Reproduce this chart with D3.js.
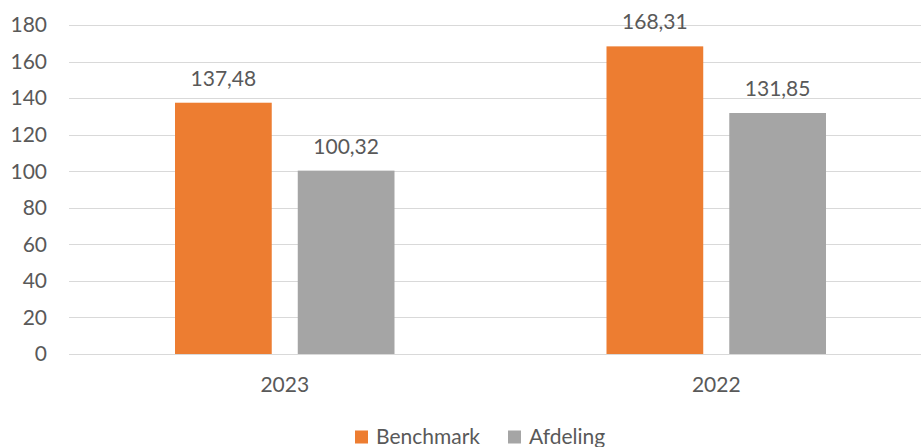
<!DOCTYPE html>
<html>
<head>
<meta charset="utf-8">
<script src="https://cdn.jsdelivr.net/npm/d3@7"></script>
<style>
  html, body { margin: 0; padding: 0; background: #fff; }
  svg text { font-family: Lato, "Open Sans", sans-serif; fill: #595959; }
</style>
</head>
<body>
<div id="app"></div>
<script>
// chart data
const categories = ["2023", "2022"];
const seriesNames = ["Benchmark", "Afdeling"];
const benchmark = [137.48, 168.31];
const afdeling = [100.32, 131.85];
const yTicks = [0, 20, 40, 60, 80, 100, 120, 140, 160, 180];
const colors = ["#ed7d31", "#a5a5a5"];

const width = 921, height = 447;
const svg = d3.select("#app").append("svg")
  .attr("width", width)
  .attr("height", height);

const plotLeft = 69, plotRight = 921, plotTop = 25, plotBottom = 354;

const x = d3.scaleBand().domain(categories).range([plotLeft, plotLeft + 863]);
const xs = d3.scaleBand().domain(seriesNames)
  .range([106, 431.5 - 106]).paddingInner(0.212);
const y = d3.scaleLinear().domain([0, 180]).range([plotBottom, plotTop]);

// gridlines
svg.append("g")
  .selectAll("line")
  .data(yTicks)
  .join("line")
    .attr("x1", plotLeft).attr("x2", plotRight)
    .attr("y1", d => Math.round(y(d)) + 0.5)
    .attr("y2", d => Math.round(y(d)) + 0.5)
    .attr("stroke", "#d9d9d9")
    .attr("stroke-width", 1);

// y tick labels
svg.append("g")
  .selectAll("text")
  .data(yTicks)
  .join("text")
    .attr("x", 47)
    .attr("y", d => y(d))
    .attr("dy", "0.35em")
    .attr("text-anchor", "end")
    .attr("font-size", 21)
    .text(d => d);

const rows = categories.map((c, i) => ({
  cat: c,
  vals: [{ s: "Benchmark", v: benchmark[i] }, { s: "Afdeling", v: afdeling[i] }]
}));

const groups = svg.append("g")
  .selectAll("g")
  .data(rows)
  .join("g")
    .attr("transform", d => `translate(${x(d.cat)},0)`);

groups.selectAll("rect")
  .data(d => d.vals)
  .join("rect")
    .attr("x", d => xs(d.s))
    .attr("width", xs.bandwidth())
    .attr("y", d => y(d.v))
    .attr("height", d => y(0) - y(d.v))
    .attr("fill", (d, i) => colors[i]);

const fmt = v => v.toFixed(2).replace(".", ",");

groups.selectAll("text.val")
  .data(d => d.vals)
  .join("text")
    .attr("class", "val")
    .attr("x", d => xs(d.s) + xs.bandwidth() / 2)
    .attr("y", d => y(d.v) - 17)
    .attr("text-anchor", "middle")
    .attr("font-size", 21)
    .text(d => fmt(d.v));

// category labels
svg.append("g")
  .selectAll("text")
  .data(categories)
  .join("text")
    .attr("x", d => x(d) + x.bandwidth() / 2)
    .attr("y", 385)
    .attr("dy", "0.35em")
    .attr("text-anchor", "middle")
    .attr("font-size", 21)
    .text(d => d);

// legend
const legendPos = [355, 508];
const legend = svg.append("g")
  .selectAll("g")
  .data(seriesNames)
  .join("g")
    .attr("transform", (d, i) => `translate(${legendPos[i]},437)`);
legend.append("rect")
  .attr("x", 0).attr("y", -6.5)
  .attr("width", 13).attr("height", 13)
  .attr("fill", (d, i) => colors[i]);
legend.append("text")
  .attr("x", 21)
  .attr("dy", "0.35em")
  .attr("font-size", 21)
  .text(d => d);
</script>
</body>
</html>
